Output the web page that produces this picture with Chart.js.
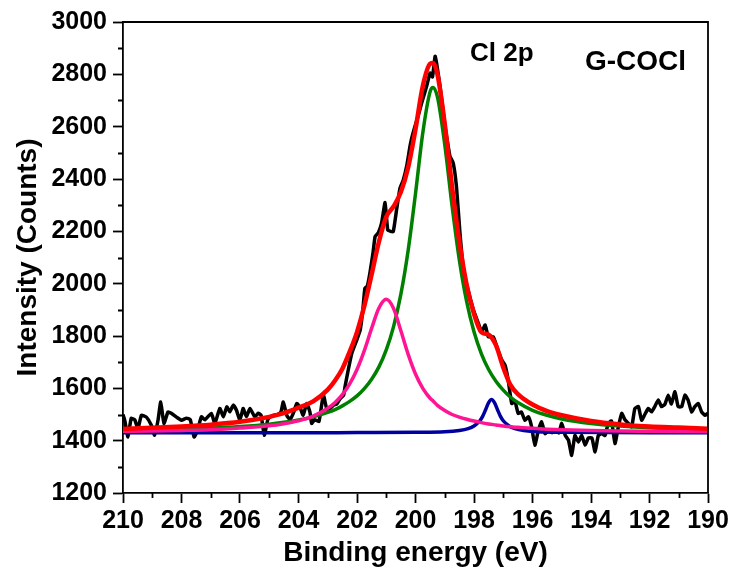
<!DOCTYPE html>
<html>
<head>
<meta charset="utf-8">
<script src="https://cdn.jsdelivr.net/npm/chart.js@4.4.1/dist/chart.umd.min.js"></script>
<style>
  html, body { margin: 0; padding: 0; background: #ffffff; }
  #wrap { width: 732px; height: 575px; }
</style>
</head>
<body>
<div id="wrap"><canvas id="c" width="732" height="575"></canvas></div>
<script>
// ---- Raw spectrum (black) ----
const dataEnergy = [210.0,209.94,209.83,209.72,209.6,209.49,209.37,209.2,209.03,208.92,208.8,208.71,208.6,208.46,208.35,208.17,208.0,207.83,207.7,207.57,207.45,207.32,207.2,206.98,206.86,206.69,206.57,206.45,206.35,206.23,206.12,206.01,205.94,205.89,205.78,205.66,205.49,205.38,205.28,205.17,205.05,204.95,204.84,204.72,204.6,204.52,204.4,204.29,204.18,204.06,203.95,203.84,203.72,203.61,203.55,203.45,203.3,203.15,203.03,202.92,202.8,202.69,202.58,202.46,202.41,202.3,202.18,202.01,201.89,201.8,201.73,201.65,201.56,201.45,201.38,201.27,201.16,201.04,200.95,200.85,200.76,200.64,200.53,200.42,200.3,200.19,200.13,200.02,199.9,199.79,199.62,199.5,199.42,199.33,199.28,199.16,198.99,198.88,198.82,198.71,198.6,198.48,198.37,198.25,198.12,198.02,197.85,197.74,197.62,197.51,197.34,197.22,197.05,196.94,196.83,196.71,196.6,196.49,196.38,196.26,196.14,196.03,195.92,195.8,195.69,195.57,195.45,195.33,195.2,195.1,195.0,194.88,194.77,194.66,194.55,194.43,194.32,194.2,194.09,193.97,193.86,193.75,193.63,193.52,193.41,193.3,193.18,193.07,192.95,192.84,192.72,192.61,192.5,192.38,192.27,192.16,192.04,191.93,191.82,191.7,191.59,191.47,191.36,191.25,191.13,191.02,190.9,190.79,190.68,190.56,190.45,190.33,190.22,190.1,190.0];
const dataCounts = [1500,1478,1414,1485,1480,1446,1497,1490,1459,1421,1480,1548,1466,1510,1505,1490,1478,1486,1480,1414,1440,1491,1480,1504,1466,1523,1491,1529,1510,1536,1516,1480,1504,1523,1492,1523,1491,1505,1497,1421,1480,1492,1497,1500,1510,1548,1497,1480,1504,1542,1528,1497,1542,1510,1466,1480,1474,1574,1520,1523,1536,1540,1560,1573,1606,1670,1733,1784,1823,1900,1982,1990,2040,2120,2180,2195,2231,2310,2205,2200,2199,2288,2365,2395,2450,2524,2556,2601,2645,2690,2754,2805,2790,2869,2843,2754,2601,2524,2486,2461,2371,2193,2065,1995,1940,1899,1848,1816,1842,1797,1797,1759,1708,1689,1631,1542,1550,1504,1510,1478,1491,1453,1383,1440,1472,1427,1440,1430,1440,1430,1466,1420,1402,1344,1420,1395,1420,1383,1410,1410,1357,1420,1427,1420,1466,1475,1389,1450,1504,1480,1466,1453,1523,1530,1478,1500,1523,1510,1530,1555,1530,1540,1574,1540,1587,1530,1530,1574,1555,1510,1530,1542,1510,1497,1505];

// ---- Fitted components ----
const fitEnergy = [210,209,208,207,206,205,204.5,204,203.5,203,202.75,202.5,202.25,202,201.75,201.5,201.25,201,200.75,200.5,200.25,200,199.75,199.5,199.4,199.25,199,198.75,198.5,198.25,198,197.75,197.5,197.25,197,196.75,196.5,196,195.5,195,194,193,192,191,190];
const fitEnvelope = [1445,1449,1454,1461,1472,1491,1505,1526,1550,1595,1630,1675,1740,1815,1915,2035,2160,2255,2295,2350,2445,2590,2755,2840,2843,2800,2610,2370,2160,1995,1885,1815,1805,1765,1680,1612,1578,1538,1513,1497,1475,1462,1454,1450,1446];
const fitGreen = [1439,1441,1444,1448,1454,1463,1470,1479,1491,1508,1519,1533,1550,1571,1599,1635,1682,1747,1836,1960,2128,2344,2577,2734,2750,2714,2532,2298,2090,1931,1816,1733,1672,1627,1593,1566,1546,1516,1497,1483,1466,1456,1449,1445,1442];
const fitPink = [1436,1437,1439,1442,1448,1457,1465,1476,1494,1524,1546,1576,1617,1672,1744,1829,1907,1940,1905,1820,1730,1655,1600,1562,1552,1535,1515,1500,1490,1482,1475,1469,1464,1460,1456,1453,1451,1447,1444,1442,1439,1437,1436,1435,1434];
const blueEnergy = [210,205,202,200,199,198.5,198.2,198,197.8,197.7,197.6,197.5,197.4,197.3,197.2,197.1,197,196.8,196.6,196.3,195.8,194.8,192,190];
const fitBlue = [1430,1430,1431,1432,1434,1439,1446,1456,1476,1494,1519,1545,1557,1545,1519,1494,1476,1456,1446,1439,1434,1432,1430,1430];

// ---- Axes ----
const xMin = 190, xMax = 210, xStep = 2, xMinorStep = 1;
const yMin = 1200, yMax = 3000, yStep = 200, yMinorStep = 100;
const xTitle = 'Binding energy (eV)';
const yTitle = 'Intensity (Counts)';
const labelA = 'Cl 2p';
const labelB = 'G-COCl';

const pts = (xs, ys) => xs.map((x, i) => ({ x: x, y: ys[i] }));
const FONT = "'Liberation Sans', Arial, Helvetica, sans-serif";

const decorPlugin = {
  id: 'decor',
  afterDraw(chart) {
    const ctx = chart.ctx;
    const a = chart.chartArea;
    const sx = chart.scales.x, sy = chart.scales.y;
    ctx.save();
    ctx.strokeStyle = '#000';
    ctx.lineWidth = 1.8;
    ctx.beginPath();
    ctx.moveTo(a.left, a.top);
    ctx.lineTo(a.right, a.top);
    ctx.lineTo(a.right, a.bottom);
    ctx.stroke();
    ctx.beginPath();
    for (let v = xMin + xMinorStep; v < xMax; v += xStep) {
      const px = Math.round(sx.getPixelForValue(v)) + 0.5;
      ctx.moveTo(px, a.bottom);
      ctx.lineTo(px, a.bottom + 5);
    }
    for (let v = yMin + yMinorStep; v < yMax; v += yStep) {
      const py = Math.round(sy.getPixelForValue(v)) + 0.5;
      ctx.moveTo(a.left, py);
      ctx.lineTo(a.left - 5, py);
    }
    ctx.stroke();
    ctx.fillStyle = '#000';
    ctx.textBaseline = 'alphabetic';
    ctx.textAlign = 'left';
    ctx.font = 'bold 26px ' + FONT;
    ctx.fillText(labelA, 470, 61);
    ctx.font = 'bold 28px ' + FONT;
    ctx.fillText(labelB, 585, 70);
    ctx.restore();
  }
};

new Chart(document.getElementById('c'), {
  type: 'line',
  data: {
    datasets: [
      { label: 'Envelope', data: pts(fitEnergy, fitEnvelope), borderColor: '#ff0000', borderWidth: 4.5, pointRadius: 0, cubicInterpolationMode: 'monotone', order: 0 },
      { label: 'Peak 2', data: pts(fitEnergy, fitPink), borderColor: '#ff1493', borderWidth: 3.5, pointRadius: 0, cubicInterpolationMode: 'monotone', order: 1 },
      { label: 'Peak 1', data: pts(fitEnergy, fitGreen), borderColor: '#008000', borderWidth: 3.5, pointRadius: 0, cubicInterpolationMode: 'monotone', order: 2 },
      { label: 'Peak 3', data: pts(blueEnergy, fitBlue), borderColor: '#0000a0', borderWidth: 3.5, pointRadius: 0, cubicInterpolationMode: 'monotone', order: 3 },
      { label: 'Raw', data: pts(dataEnergy, dataCounts), borderColor: '#000000', borderWidth: 3.5, pointRadius: 0, tension: 0.15, order: 4 }
    ]
  },
  options: {
    responsive: false,
    animation: false,
    devicePixelRatio: 1,
    layout: { padding: { top: 22, right: 24, left: 0, bottom: 0 } },
    plugins: { legend: { display: false }, tooltip: { enabled: false } },
    scales: {
      x: {
        type: 'linear',
        min: xMin, max: xMax, reverse: true,
        afterFit(s) { s.height = 82; },
        ticks: { stepSize: xStep, color: '#000', padding: 3, maxRotation: 0, autoSkip: false,
                 callback: v => String(v),
                 font: { family: FONT, weight: 'bold', size: 25 } },
        grid: { drawOnChartArea: false, drawTicks: true, tickLength: 10, tickWidth: 1.8, tickColor: '#000' },
        border: { display: true, color: '#000', width: 1.8 },
        title: { display: true, text: xTitle, color: '#000', padding: { top: 0, bottom: 5 },
                 font: { family: FONT, weight: 'bold', size: 28 } }
      },
      y: {
        type: 'linear',
        min: yMin, max: yMax,
        afterFit(s) { s.width = 123; },
        ticks: { stepSize: yStep, color: '#000', padding: 6,
                 callback: v => String(v),
                 font: { family: FONT, weight: 'bold', size: 25 } },
        grid: { drawOnChartArea: false, drawTicks: true, tickLength: 10, tickWidth: 1.8, tickColor: '#000' },
        border: { display: true, color: '#000', width: 1.8 },
        title: { display: true, text: yTitle, color: '#000', padding: { top: 11, bottom: 0 },
                 font: { family: FONT, weight: 'bold', size: 28 } }
      }
    }
  },
  plugins: [decorPlugin]
});
</script>
</body>
</html>
